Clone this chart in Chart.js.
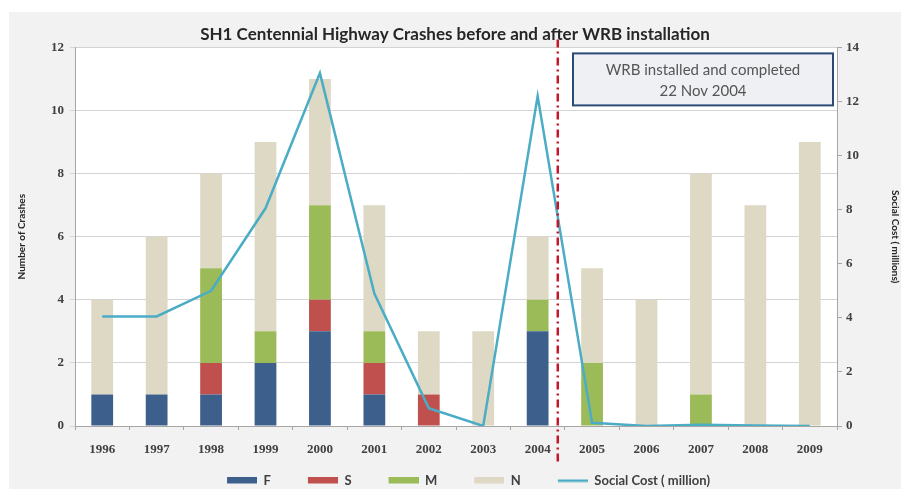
<!DOCTYPE html>
<html>
<head>
<meta charset="utf-8">
<script src="https://cdn.jsdelivr.net/npm/chart.js@4.4.1/dist/chart.umd.min.js"></script>
<style>
  html, body { margin: 0; padding: 0; background: #fff; }
  #wrap { width: 901px; height: 489px; position: relative; }
</style>
</head>
<body>
<div id="wrap"><canvas id="crashChart"></canvas></div>
<script>
const years = ["1996", "1997", "1998", "1999", "2000", "2001", "2002", "2003", "2004", "2005", "2006", "2007", "2008", "2009"];
// crash counts by severity
const fatal   = [1, 1, 1, 2, 3, 1, 0, 0, 3, 0, 0, 0, 0, 0];
const serious = [0, 0, 1, 0, 1, 1, 1, 0, 0, 0, 0, 0, 0, 0];
const minor   = [0, 0, 3, 1, 3, 1, 0, 0, 1, 2, 0, 1, 0, 0];
const nonInj  = [3, 5, 3, 6, 4, 4, 2, 3, 2, 3, 4, 7, 7, 9];
// social cost, $ million
const socialCost = [4.05, 4.05, 5.0, 8.05, 13.05, 4.9, 0.66, 0.0, 12.2, 0.12, 0.0, 0.05, 0.02, 0.0];

const installedAt = 8.37;   // 22 Nov 2004 on the category axis
const noteLines = ["WRB installed and completed", "22 Nov 2004"];

const tickFont = { family: "'Liberation Serif', serif", size: 13, weight: "bold" };
const labelFont = { family: "Lato, sans-serif", size: 10, weight: "bold" };

// legend swatch: blank lead-in on the left, key on the right
function swatch(color, kind) {
  const c = document.createElement("canvas");
  c.width = 57; c.height = 8;
  const g = c.getContext("2d");
  g.fillStyle = color;
  if (kind === "line") g.fillRect(27, 3, 30, 2.5);
  else g.fillRect(27, 0, 30, 7);
  return c;
}

// grey backdrop behind the chart, white plot area
const backdrop = {
  id: "backdrop",
  beforeDraw(chart) {
    const { ctx, chartArea: a } = chart;
    ctx.save();
    ctx.fillStyle = "#ffffff";
    ctx.fillRect(0, 0, chart.width, chart.height);
    ctx.fillStyle = "#f2f2f2";
    ctx.fillRect(9, 12, chart.width - 9, chart.height - 12);
    ctx.fillStyle = "#ffffff";
    ctx.fillRect(a.left, a.top, a.right - a.left, a.bottom - a.top);
    ctx.restore();
  }
};

// installation marker and note box
const installMarker = {
  id: "installMarker",
  afterDatasetsDraw(chart) {
    const { ctx, chartArea: a, scales } = chart;
    const x = scales.x.getPixelForValue(installedAt);
    ctx.save();
    ctx.strokeStyle = "#c3172b";
    ctx.lineWidth = 2.5;
    ctx.setLineDash([8, 4, 2, 4]);
    ctx.beginPath();
    ctx.moveTo(x, a.top - 8);
    ctx.lineTo(x, a.bottom + 36);
    ctx.stroke();
    ctx.setLineDash([]);

    const w = 260, h = 52;
    const bx = a.right - w - 4, by = a.top + 6;
    ctx.fillStyle = "#eef0f4";
    ctx.fillRect(bx, by, w, h);
    ctx.strokeStyle = "#2b4a78";
    ctx.lineWidth = 2;
    ctx.strokeRect(bx, by, w, h);
    ctx.fillStyle = "#555555";
    ctx.font = "15px Lato, sans-serif";
    ctx.textAlign = "center";
    ctx.textBaseline = "middle";
    ctx.fillText(noteLines[0], bx + w / 2, by + 17);
    ctx.fillText(noteLines[1], bx + w / 2, by + 38);
    ctx.restore();
  }
};

const barSet = (label, data, color) => ({
  type: "bar", label, data, backgroundColor: color, borderWidth: 0,
  pointStyle: swatch(color, "bar"), yAxisID: "y", order: 2,
  barPercentage: 0.4, categoryPercentage: 1
});

new Chart(document.getElementById("crashChart"), {
  data: {
    labels: years,
    datasets: [
      barSet("F", fatal, "#3c5f8c"),
      barSet("S", serious, "#c0504d"),
      barSet("M", minor, "#9bbb59"),
      barSet("N", nonInj, "#ddd9c4"),
      {
        type: "line", label: "Social Cost ( million)", data: socialCost,
        borderColor: "#4bacc6", backgroundColor: "#4bacc6", borderWidth: 2.5,
        pointRadius: 0, pointStyle: swatch("#4bacc6", "line"), tension: 0,
        yAxisID: "y1", order: 0
      }
    ]
  },
  options: {
    responsive: true,
    maintainAspectRatio: false,
    animation: false,
    layout: { padding: { left: 9, top: 12, right: 0, bottom: -8 } },
    plugins: {
      title: {
        display: true,
        text: "SH1 Centennial Highway Crashes before and after WRB installation",
        color: "#262626",
        font: { family: "Lato, sans-serif", size: 17, weight: "bold" },
        padding: { top: 12, bottom: 3 }
      },
      legend: {
        position: "bottom",
        labels: {
          usePointStyle: true, pointStyleWidth: 57, boxHeight: 8, padding: 10,
          color: "#404040",
          font: { family: "Lato, sans-serif", size: 13, weight: "bold" },
          sort: (a, b) => a.datasetIndex - b.datasetIndex
        }
      },
      tooltip: { enabled: false }
    },
    scales: {
      x: {
        stacked: true,
        afterFit: s => { s.height = 38; },
        grid: { display: true, drawOnChartArea: false, tickLength: 4, color: "#a6a6a6", offset: true },
        border: { color: "#a6a6a6" },
        ticks: { color: "#404040", font: tickFont, padding: 12, maxRotation: 0 }
      },
      y: {
        stacked: true, min: 0, max: 12,
        afterFit: s => { s.width = 66; },
        ticks: { stepSize: 2, color: "#404040", font: tickFont, padding: 6 },
        grid: { color: "#d4d4d4", tickLength: 5 },
        border: { color: "#a6a6a6" },
        title: { display: true, text: "Number of Crashes", color: "#262626", font: labelFont, padding: { top: 7, bottom: 0 } }
      },
      y1: {
        position: "right", stacked: false, min: 0, max: 14,
        afterFit: s => { s.width = 64; },
        ticks: { stepSize: 2, color: "#404040", font: tickFont, padding: 4 },
        grid: { drawOnChartArea: false, tickLength: 5, color: "#a6a6a6" },
        border: { color: "#a6a6a6" },
        title: { display: true, text: "Social Cost ( millions)", color: "#262626", font: labelFont, padding: { top: 0, bottom: 10 } }
      }
    }
  },
  plugins: [backdrop, installMarker]
});
</script>
</body>
</html>
